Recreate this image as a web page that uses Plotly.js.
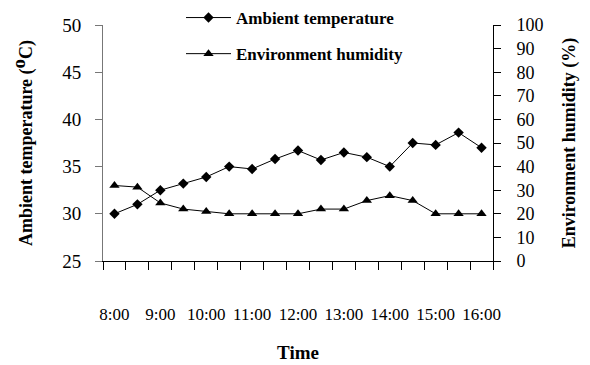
<!DOCTYPE html>
<html>
<head>
<meta charset="utf-8">
<script src="https://cdn.plot.ly/plotly-3.0.1.min.js"></script>
<style>html,body{margin:0;padding:0;background:#fff;}#chart{width:590px;height:365px;}</style>
</head>
<body>
<div id="chart"></div>
<script>
// Half-hourly readings 8:00 .. 16:00
const times = ["8:00","8:30","9:00","9:30","10:00","10:30","11:00","11:30","12:00","12:30","13:00","13:30","14:00","14:30","15:00","15:30","16:00"];
const temperature = [30.0, 31.0, 32.5, 33.2, 33.9, 35.0, 34.75, 35.8, 36.7, 35.7, 36.5, 36.0, 35.0, 37.5, 37.3, 38.6, 37.0];
const humidity = [32, 31.3, 24.6, 22, 21, 20, 20, 20, 20, 22, 22, 25.6, 27.7, 25.6, 20, 20, 20];
const tickLabels = ["8:00","9:00","10:00","11:00","12:00","13:00","14:00","15:00","16:00"];

const idx = times.map((t, i) => i);
const labelIdx = tickLabels.map(l => times.indexOf(l));
const FONT = "Liberation Serif, Times New Roman, serif";

const traces = [
  {
    x: idx, y: temperature, name: "Ambient temperature", type: "scatter", mode: "lines+markers",
    line: {color: "#000", width: 1}, marker: {symbol: "diamond", size: 8, color: "#000"},
    legendgroup: "a", yaxis: "y"
  },
  {
    x: idx, y: humidity, name: "Environment humidity", type: "scatter", mode: "lines+markers",
    line: {color: "#000", width: 1}, marker: {symbol: "triangle-up", size: 9, color: "#000"},
    legendgroup: "b", yaxis: "y2"
  }
];

const layout = {
  width: 590, height: 365,
  margin: {l: 103, r: 97, t: 25, b: 104, autoexpand: false},
  paper_bgcolor: "#fff", plot_bgcolor: "#fff",
  font: {family: FONT, color: "#000", size: 17},
  showlegend: true,
  legend: {
    x: 0.2, xanchor: "left", xref: "paper",
    y: 1, yanchor: "top", yref: "container",
    font: {family: FONT, size: 17, weight: "bold"},
    itemwidth: 45, tracegroupgap: 11, bgcolor: "rgba(0,0,0,0)"
  },
  xaxis: {
    range: [-0.5, times.length - 0.5],
    tickmode: "array", tickvals: labelIdx, ticktext: tickLabels,
    ticks: "", showgrid: false, zeroline: false,
    showline: true, linecolor: "#000", linewidth: 1,
    tickfont: {family: FONT, size: 17},
    ticklabelstandoff: 38,
    minor: {tick0: -0.5, dtick: 1, ticks: "outside", ticklen: 8, tickcolor: "#000", tickwidth: 1, showgrid: false},
    title: {text: "<b>Time</b>", font: {family: FONT, size: 19}, standoff: 22}
  },
  yaxis: {
    range: [25, 50], dtick: 5, tick0: 25,
    ticks: "outside", ticklen: 7, tickcolor: "#777", showgrid: false, zeroline: false,
    showline: true, linecolor: "#777", linewidth: 1,
    tickfont: {family: FONT, size: 19},
    ticklabelstandoff: 10,
    title: {text: "<b>Ambient temperature (<sup><span style=\"font-size:19px\">o</span></sup>C)</b>", font: {family: FONT, size: 18}, standoff: 24}
  },
  yaxis2: {
    range: [0, 100], dtick: 10, tick0: 0,
    overlaying: "y", side: "right",
    ticks: "outside", ticklen: 7, tickcolor: "#000", showgrid: false, zeroline: false,
    showline: true, linecolor: "#000", linewidth: 1,
    tickfont: {family: FONT, size: 18},
    ticklabelstandoff: 12,
    title: {text: "<b>Environment humidity (%)</b>", font: {family: FONT, size: 18}, standoff: 19}
  }
};

Plotly.newPlot("chart", traces, layout, {displayModeBar: false, staticPlot: true});
</script>
</body>
</html>
